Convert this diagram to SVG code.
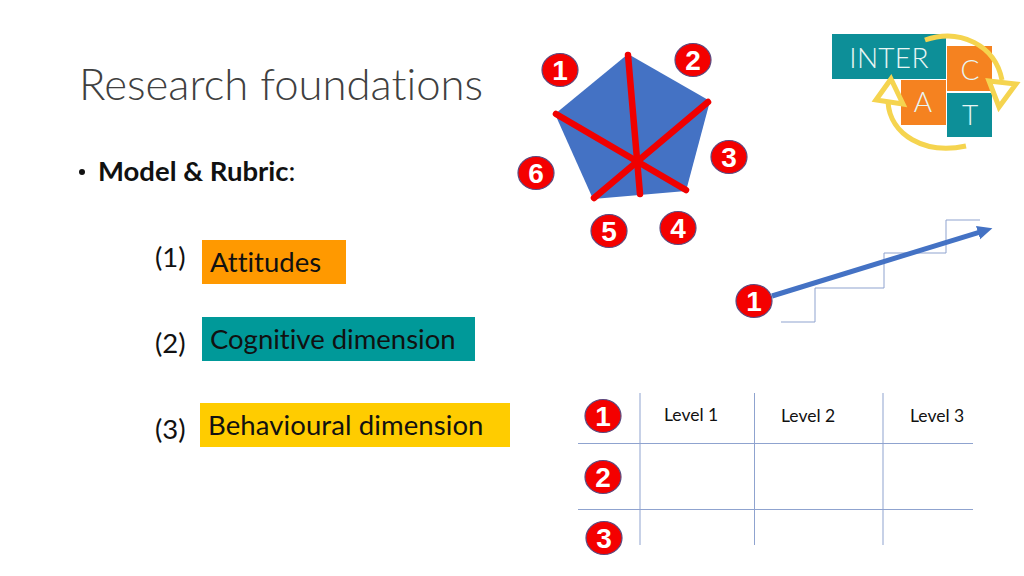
<svg xmlns="http://www.w3.org/2000/svg" width="1024" height="576" viewBox="0 0 1024 576">
<defs>
<marker id="ah" markerUnits="userSpaceOnUse" markerWidth="16" markerHeight="16" refX="1" refY="7" orient="auto"><path d="M0 0L15 7L0 14Z" fill="#4472c4"/></marker>
</defs>
<style>
text{font-family:"Lato","Liberation Sans",sans-serif;fill:#111;font-variant-ligatures:none}
.b ellipse{fill:#f40000;stroke:#5a4a80;stroke-width:1.2}
.b text{font-family:"Liberation Sans",sans-serif;font-weight:700;font-size:28px;fill:#fff;text-anchor:middle}
.g{stroke:#8fa3cf;stroke-width:1;fill:none}
.lab{font-size:27.500px}
.lv{font-size:17.500px}
.lg{font-size:28px;font-weight:300;fill:#e8f6f4;text-anchor:middle}
.y{fill:none;stroke:#f5d44f;stroke-width:5}
.r{stroke:#f00000;stroke-width:6.500;stroke-linecap:round}
</style>
<rect width="1024" height="576" fill="#fff"/>
<text id="title" x="79" y="100" font-size="43.700" style="fill:#404040;font-weight:300">Research foundations</text>
<g id="bullet"><circle cx="82" cy="172" r="3" fill="#111"/><text x="98" y="181" font-size="27.500"><tspan font-weight="700">Model &amp; Rubric</tspan>:</text></g>

<g id="row1"><text x="155" y="267" class="lab">(1)</text><rect x="202" y="240" width="144" height="44" fill="#ff9900"/><text x="210" y="272" class="lab">Attitudes</text></g>
<g id="row2"><text x="155" y="353" class="lab">(2)</text><rect x="202" y="317" width="273" height="44" fill="#009999"/><text x="210" y="349" class="lab">Cognitive dimension</text></g>
<g id="row3"><text x="155" y="439" class="lab">(3)</text><rect x="200" y="403" width="310" height="44" fill="#ffcc00"/><text x="208" y="435" class="lab" style="letter-spacing:.1px">Behavioural dimension</text></g>

<g id="pentagon">
<polygon points="628,54 710,101 686,191 593,199 555,114" fill="#4472c4"/>
<g class="r"><line x1="628" y1="55" x2="640" y2="194"/><line x1="556" y1="114" x2="686" y2="190"/><line x1="708" y1="102" x2="594" y2="198"/></g>
</g>
<g class="b">
<g id="p1"><ellipse cx="560" cy="70" rx="18" ry="16.500"/><text x="560" y="80">1</text></g>
<g id="p2"><ellipse cx="693" cy="60" rx="18" ry="16.500"/><text x="693" y="70">2</text></g>
<g id="p3"><ellipse cx="729" cy="157" rx="18" ry="16.500"/><text x="729" y="167">3</text></g>
<g id="p4"><ellipse cx="678" cy="228" rx="18" ry="16.500"/><text x="678" y="238">4</text></g>
<g id="p5"><ellipse cx="609" cy="231" rx="18" ry="16.500"/><text x="609" y="241">5</text></g>
<g id="p6"><ellipse cx="536" cy="173" rx="18" ry="16.500"/><text x="536" y="183">6</text></g>
</g>

<g id="logo">
<rect x="832" y="34" width="114" height="45" fill="#0d8f98"/>
<rect x="947" y="46" width="45" height="45" fill="#f58220"/>
<rect x="947" y="93" width="45" height="44" fill="#0d8f98"/>
<rect x="901" y="80" width="45" height="45" fill="#f58220"/>
<text x="889" y="68" class="lg" style="letter-spacing:.3px">INTER</text>
<text x="970" y="80" class="lg">C</text>
<text x="970" y="125" class="lg">T</text>
<text x="923" y="112" class="lg">A</text>
<path class="y" d="M925 40C960 28 995 45 1002 80"/>
<polygon class="y" points="989,81 1016,84 999,107" fill="#fff"/>
<path class="y" d="M966 146C925 155 890 135 888 102"/>
<polygon class="y" points="891,79 903,104 876,100" fill="#fff"/>
</g>

<g id="stairs"><path class="g" d="M781 322H815V288H884V253H946V220H980"/></g>
<g id="connectors"><line x1="772" y1="296" x2="979" y2="232.300" stroke="#4472c4" stroke-width="5" marker-end="url(#ah)"/></g>
<g id="stair-badge" class="b"><ellipse cx="754" cy="301" rx="18" ry="16.500"/><text x="754" y="311">1</text></g>

<g id="grid">
<path class="g" d="M640 393V545M754.500 393V545M883 393V545M578 443.500H973M578 509.500H973"/>
<text x="664" y="421" class="lv">Level 1</text><text x="781" y="422" class="lv">Level 2</text><text x="910" y="422" class="lv">Level 3</text>
</g>
<g class="b">
<g id="g1"><ellipse cx="603" cy="416" rx="18" ry="16.500"/><text x="603" y="426">1</text></g>
<g id="g2"><ellipse cx="603" cy="477" rx="18" ry="16.500"/><text x="603" y="487">2</text></g>
<g id="g3"><ellipse cx="604" cy="538" rx="18" ry="16.500"/><text x="604" y="548">3</text></g>
</g>
</svg>
